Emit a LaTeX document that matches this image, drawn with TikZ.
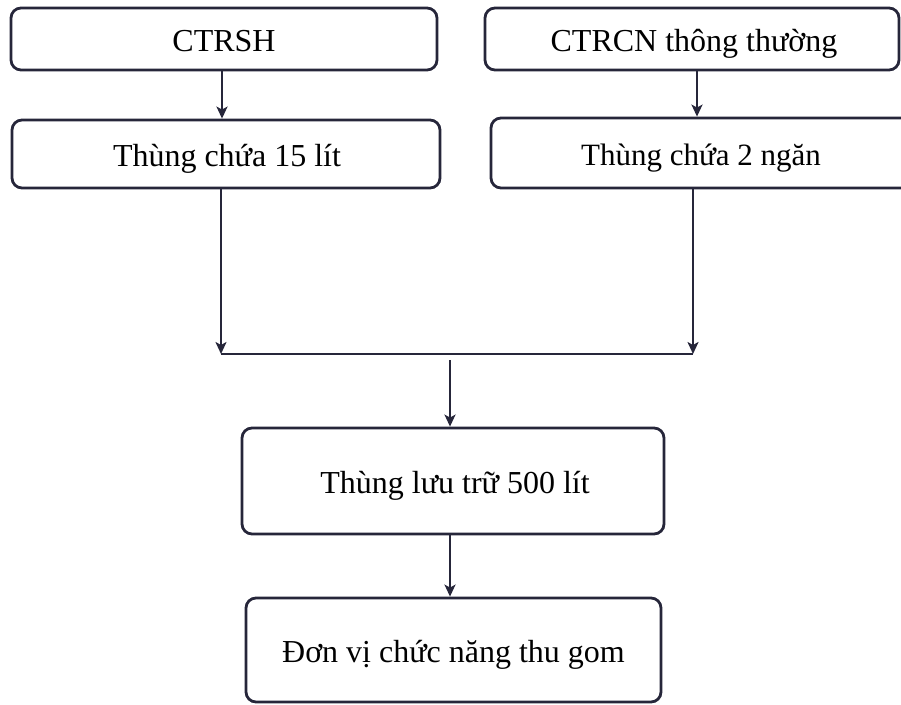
\documentclass[tikz,border=0pt]{standalone}
\usepackage{fontspec}
\setmainfont{Liberation Serif}
\usetikzlibrary{arrows.meta}
\definecolor{ink}{HTML}{26263A}
\begin{document}
\begin{tikzpicture}[x=1pt,y=-1pt,
  box/.style={draw=ink,line width=2.8pt,rounded corners=10pt,inner sep=0pt,
    font=\fontsize{32}{37}\selectfont,text=black,text height=29pt,text depth=4pt},
  conn/.style={draw=ink,line width=2.8pt},
  arr/.style={conn,-{Stealth[length=12pt,width=11pt,inset=3pt]}}]
\useasboundingbox (0,0) rectangle (901,704);
\node[box,minimum width=426pt,minimum height=62pt] (b1) at (224,39) {CTRSH};
\node[box,minimum width=428pt,minimum height=68pt] (b2) at (226,154) {\hspace*{2pt}Thùng chứa 15 lít};
\node[box,minimum width=414pt,minimum height=62pt] (b3) at (692,39) {\hspace*{4pt}CTRCN thông thường};
\node[box,minimum width=420pt,minimum height=70pt,font=\fontsize{31}{36}\selectfont] (b4) at (701,153) {Thùng chứa 2 ngăn};
\node[box,minimum width=422pt,minimum height=106pt] (b5) at (453,481) {\hspace*{4pt}Thùng lưu trữ 500 lít};
\node[box,minimum width=415pt,minimum height=104pt] (b6) at (453.5,650) {Đơn vị chức năng thu gom};
\coordinate (jl) at (221,354);
\coordinate (jr) at (693,354);
\coordinate (jc) at (450,360);
\draw[arr] (b1.south -| 222,0) -- (b2.north -| 222,0);
\draw[arr] (b3.south -| 697,0) -- (b4.north -| 697,0);
\draw[arr] (b2.south -| jl) -- (jl);
\draw[arr] (b4.south -| jr) -- (jr);
\draw[conn] (jl) -- (jr);
\draw[arr] (jc) -- (b5.north -| jc);
\draw[arr] (b5.south -| jc) -- (b6.north -| jc);
\end{tikzpicture}
\end{document}
